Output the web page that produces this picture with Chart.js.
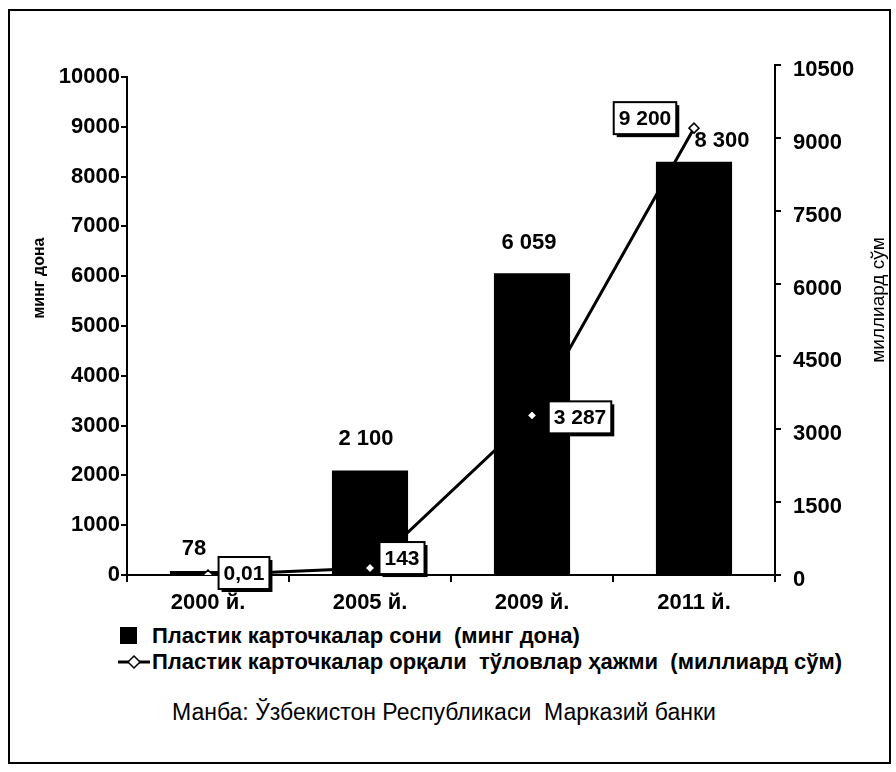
<!DOCTYPE html>
<html>
<head>
<meta charset="utf-8">
<script src="https://cdn.jsdelivr.net/npm/chart.js@4.4.1/dist/chart.umd.min.js"></script>
<style>
  body { margin: 0; background: #fff; font-family: "Liberation Sans", Arial, sans-serif; color: #000; }
  #frame { position: absolute; left: 8px; top: 9px; width: 879px; height: 751px; border: 2px solid #000; }
  #chart { position: absolute; left: 0; top: 0; }
  .row { position: absolute; line-height: 26px; white-space: pre; }
  .leg { font-size: 22px; font-weight: bold; }
  .src { font-size: 23px; }
  .sq { position: absolute; left: 120px; top: 627px; width: 17px; height: 17px; background: #000; }
  .lineIcon { position: absolute; left: 117px; top: 654px; }
</style>
</head>
<body>
<div id="frame"></div>
<canvas id="chart" width="896" height="620"></canvas>

<div class="sq"></div>
<div class="row leg" style="left:152px; top:623px;">Пластик карточкалар сони  (минг дона)</div>
<svg class="lineIcon" width="34" height="16">
  <line x1="1" y1="8" x2="33" y2="8" stroke="#000" stroke-width="3"/>
  <polygon points="17,2 23,8 17,14 11,8" fill="#fff" stroke="#000" stroke-width="1.5"/>
</svg>
<div class="row leg" style="left:152px; top:649px;">Пластик карточкалар орқали  тўловлар ҳажми  (миллиард сўм)</div>
<div class="row src" style="left:172px; top:699px;">Манба: Ўзбекистон Республикаси  Марказий банки</div>

<script>
// Data
const years = ['2000 й.', '2005 й.', '2009 й.', '2011 й.'];
const cardCounts = [78, 2100, 6059, 8300];        // минг дона (left axis)
const paymentVolumes = [0.01, 143, 3287, 9200];   // миллиард сўм (right axis)
const leftTicks = [0, 1000, 2000, 3000, 4000, 5000, 6000, 7000, 8000, 9000, 10000];
const rightTicks = [0, 1500, 3000, 4500, 6000, 7500, 9000, 10500];

const FONT = '"Liberation Sans", Arial, sans-serif';
const tickFont = { family: FONT, size: 22, weight: 'bold' };

// 2 100 / 0,01 style numbers
function fmt(v) {
    if (v < 1) return String(v).replace('.', ',');
    return String(v).replace(/\B(?=(\d{3})+(?!\d))/g, ' ');
}

const labelsPlugin = {
    id: 'labels',
    afterDatasetsDraw(chart) {
        const ctx = chart.ctx;
        const area = chart.chartArea;
        const yLeft = chart.scales.yLeft;

        ctx.save();
        ctx.strokeStyle = '#000';
        ctx.lineWidth = 2;
        // left axis line only up to its top tick
        ctx.beginPath();
        ctx.moveTo(area.left, yLeft.getPixelForValue(leftTicks[leftTicks.length - 1]) - 1);
        ctx.lineTo(area.left, area.bottom + 1);
        ctx.stroke();

        // bar value labels
        ctx.font = 'bold 22px ' + FONT;
        ctx.fillStyle = '#000';
        ctx.textAlign = 'center';
        ctx.textBaseline = 'middle';
        const barOffsets = [[-14, -22], [-4, -31], [-3, -30], [28, -21]];
        chart.getDatasetMeta(0).data.forEach((bar, i) => {
            const o = barOffsets[i];
            ctx.fillText(fmt(cardCounts[i]), bar.x + o[0], bar.y + o[1]);
        });

        // line value labels in boxes with shadow
        const boxOffsets = [[36, -2], [32, -10], [48, 2], [-49, -10]];
        chart.getDatasetMeta(1).data.forEach((pt, i) => {
            const text = fmt(paymentVolumes[i]);
            ctx.font = 'bold 21px ' + FONT;
            const w = ctx.measureText(text).width + 10;
            const h = 32;
            const cx = pt.x + boxOffsets[i][0];
            const cy = pt.y + boxOffsets[i][1];
            ctx.fillStyle = '#000';
            ctx.fillRect(cx - w / 2 + 3, cy - h / 2 + 3, w, h);
            ctx.fillStyle = '#fff';
            ctx.fillRect(cx - w / 2, cy - h / 2, w, h);
            ctx.lineWidth = 2;
            ctx.strokeRect(cx - w / 2, cy - h / 2, w, h);
            ctx.fillStyle = '#000';
            ctx.fillText(text, cx, cy + 1);
        });

        // axis titles
        ctx.font = 'bold 16px ' + FONT;
        ctx.translate(40, 278);
        ctx.rotate(-Math.PI / 2);
        ctx.fillText('минг дона', 0, 0);
        ctx.setTransform(1, 0, 0, 1, 0, 0);
        ctx.font = '19px ' + FONT;
        ctx.translate(879, 300);
        ctx.rotate(-Math.PI / 2);
        ctx.fillText('миллиард сўм', 0, 0);
        ctx.restore();
    }
};

new Chart(document.getElementById('chart'), {
    type: 'bar',
    data: {
        labels: years,
        datasets: [{
            label: 'Пластик карточкалар сони (минг дона)',
            data: cardCounts,
            backgroundColor: '#000',
            yAxisID: 'yLeft',
            barPercentage: 0.47,
            categoryPercentage: 1,
            order: 1
        }, {
            type: 'line',
            label: 'Пластик карточкалар орқали тўловлар ҳажми (миллиард сўм)',
            data: paymentVolumes,
            borderColor: '#000',
            borderWidth: 3,
            pointStyle: 'rectRot',
            pointRadius: 5,
            pointBackgroundColor: '#fff',
            pointBorderColor: '#000',
            pointBorderWidth: 1.5,
            yAxisID: 'yRight',
            tension: 0,
            order: 0
        }]
    },
    options: {
        responsive: false,
        animation: false,
        layout: { padding: { top: 65, left: 0, right: 0, bottom: 0 } },
        plugins: {
            legend: { display: false },
            tooltip: { enabled: false }
        },
        scales: {
            x: {
                offset: true,
                grid: { offset: true, drawOnChartArea: false, tickLength: 7, color: '#000', lineWidth: 2 },
                border: { display: true, color: '#000', width: 2 },
                ticks: { color: '#000', padding: 8, font: tickFont },
                afterFit(scale) { scale.height = 45; }
            },
            yLeft: {
                position: 'left',
                min: 0,
                max: 10241, // right axis reaches higher than the left one
                afterBuildTicks(scale) { scale.ticks = leftTicks.map(v => ({ value: v })); },
                ticks: {
                    padding: 1,
                    color: '#000',
                    font: tickFont,
                    callback: v => String(v)
                },
                grid: { drawOnChartArea: false, tickLength: 6, color: '#000', lineWidth: 2 },
                border: { display: false },
                afterFit(scale) { scale.width = 127; }
            },
            yRight: {
                position: 'right',
                min: 0,
                max: rightTicks[rightTicks.length - 1],
                afterBuildTicks(scale) { scale.ticks = rightTicks.map(v => ({ value: v })); },
                ticks: {
                    padding: 12,
                    labelOffset: 5,
                    color: '#000',
                    font: tickFont,
                    callback: v => String(v)
                },
                grid: { drawOnChartArea: false, tickLength: 6, color: '#000', lineWidth: 2 },
                border: { display: true, color: '#000', width: 2 },
                afterFit(scale) { scale.width = 121; }
            }
        }
    },
    plugins: [labelsPlugin]
});
</script>
</body>
</html>
